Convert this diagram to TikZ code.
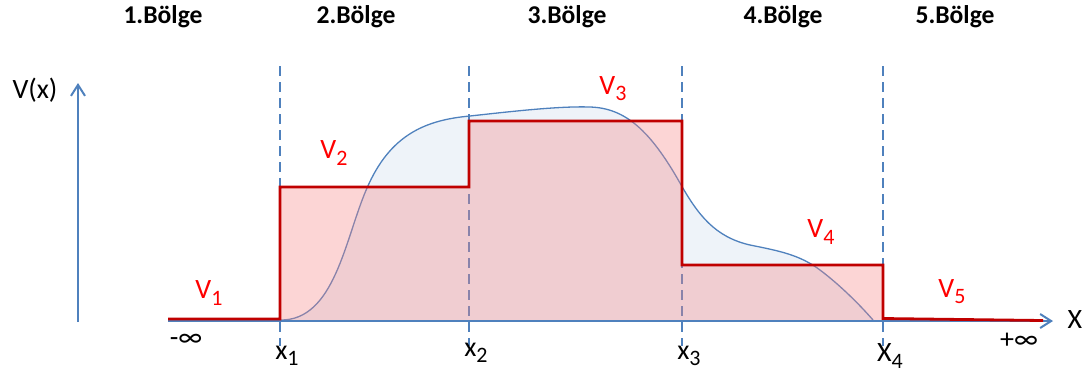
\documentclass[tikz,border=0pt]{standalone}
\usepackage{fontspec}
\setmainfont{Carlito}
\usetikzlibrary{arrows.meta,positioning}
\definecolor{axisblue}{RGB}{79,129,189}
\definecolor{stepred}{RGB}{192,0,0}
\definecolor{labelred}{RGB}{255,0,0}
\definecolor{curvefill}{RGB}{238,243,249}
\definecolor{stepfill}{RGB}{246,135,135}
\newcommand{\idx}[1]{\raisebox{-0.45ex}{\fontsize{11}{11}\selectfont #1}}
\newcommand{\wavecurve}{(280,320) .. controls (335,321) and (345,238) .. (367,188)
  .. controls (390,135) and (425,120) .. (470,116)
  .. controls (515,111) and (560,106) .. (590,107)
  .. controls (625,108) and (650,130) .. (680,183)
  .. controls (698,215) and (715,237) .. (750,245)
  .. controls (780,251) and (800,255) .. (820,270)
  .. controls (840,285) and (860,305) .. (873,320)}
\tikzset{
  region/.style={font=\fontsize{12.8}{14}\selectfont\bfseries, inner sep=1pt},
  axislabel/.style={font=\fontsize{14}{16}\selectfont, inner sep=1pt},
  potlabel/.style={font=\fontsize{14}{16}\selectfont, text=labelred, inner sep=1pt},
  border/.style={axisblue, line width=0.65pt, dash pattern=on 5pt off 3pt},
  axis/.style={-{Straight Barb[length=5.5pt, width=7pt, line width=1pt]}, axisblue, line width=1pt},
  potential/.style={stepred, line width=1.4pt, line join=miter},
  wave/.style={axisblue, line width=0.65pt}
}
\begin{document}
\begin{tikzpicture}[x=0.5pt,y=-0.5pt]
  \useasboundingbox (0,0) rectangle (1092,372);

  % axes end points
  \coordinate (xstart) at (168,321);
  \coordinate (xend) at (1053,321);
  \coordinate (ybase) at (78,322);
  \coordinate (ytop) at (78,83);

  % wave function under the steps
  \fill[curvefill] \wavecurve -- cycle;

  % region borders
  \foreach \xb in {280,469,682,883}
    \draw[border] (\xb,66) -- (\xb,346);

  \draw[wave] \wavecurve;

  % potential steps
  \fill[stepfill, opacity=0.35] (280,320) -- (280,187) -- (469,187) -- (469,121) -- (682,121) -- (682,265) -- (883,265) -- (883,320) -- cycle;

  \draw[axis] (xstart) -- (xend);
  \draw[axis] (ybase) -- (ytop);

  \draw[potential] (168,319) -- (280,319) -- (280,187) -- (469,187) -- (469,121) -- (682,121) -- (682,265) -- (883,265) -- (883,318.5) -- (1043,320.5);

  % labels
  \node[region] (reg1) at (163,17) {1.Bölge};
  \node[region] (reg2) at (356,17) {2.Bölge};
  \node[region] (reg3) at (567,17) {3.Bölge};
  \node[region] (reg4) at (783,17) {4.Bölge};
  \node[region] (reg5) at (955,17) {5.Bölge};

  \node[axislabel] (vx) at (35,90) {V(x)};
  \node[axislabel] (xaxis) at (1075,320) {X};
  \node[axislabel] (minf) at (186,340) {-∞};
  \node[axislabel] (pinf) at (1019,341) {+∞};

  \node[axislabel] (xl1) at (287,356) {x\idx{1}};
  \node[axislabel] (xl2) at (476,353) {x\idx{2}};
  \node[axislabel] (xl3) at (689,356) {x\idx{3}};
  \node[axislabel] (xl4) at (890,356) {X\idx{4}};

  \node[potlabel] (v1) at (209,293) {V\idx{1}};
  \node[potlabel] (v2) at (334,153) {V\idx{2}};
  \node[potlabel] (v3) at (613,89) {V\idx{3}};
  \node[potlabel] (v4) at (821,232) {V\idx{4}};
  \node[potlabel] (v5) at (952,292) {V\idx{5}};
\end{tikzpicture}
\end{document}
